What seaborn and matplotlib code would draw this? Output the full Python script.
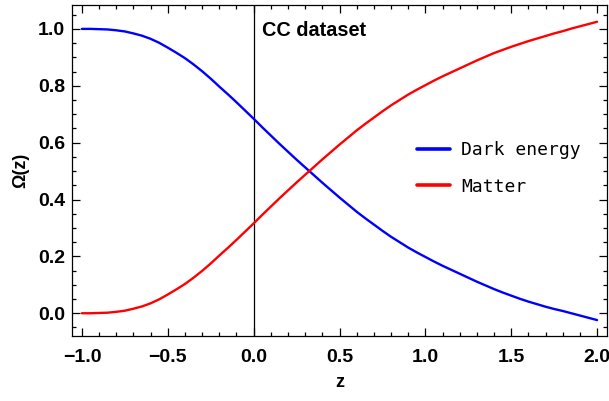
import numpy as np
import pandas as pd
import matplotlib
matplotlib.use("Agg")
import matplotlib.pyplot as plt
from matplotlib.ticker import MultipleLocator, FuncFormatter
from matplotlib.lines import Line2D
import seaborn as sns

z = [-1.00, -0.95, -0.90, -0.85, -0.80, -0.75, -0.70, -0.65, -0.60, -0.55,
     -0.50, -0.45, -0.40, -0.35, -0.30, -0.25, -0.20, -0.15, -0.10, -0.05,
     0.00, 0.05, 0.10, 0.15, 0.20, 0.25, 0.30, 0.35, 0.40, 0.45,
     0.50, 0.55, 0.60, 0.65, 0.70, 0.75, 0.80, 0.85, 0.90, 0.95,
     1.00, 1.05, 1.10, 1.15, 1.20, 1.25, 1.30, 1.35, 1.40, 1.45,
     1.50, 1.55, 1.60, 1.65, 1.70, 1.75, 1.80, 1.85, 1.90, 1.95, 2.00]

dark_energy = [1.000, 1.000, 0.999, 0.998, 0.995, 0.991, 0.984, 0.976, 0.965, 0.951,
               0.934, 0.916, 0.897, 0.875, 0.851, 0.825, 0.797, 0.770, 0.742, 0.713,
               0.684, 0.654, 0.625, 0.596, 0.568, 0.540, 0.513, 0.486, 0.459, 0.433,
               0.407, 0.382, 0.357, 0.334, 0.312, 0.290, 0.269, 0.250, 0.231, 0.214,
               0.198, 0.182, 0.167, 0.153, 0.139, 0.125, 0.111, 0.098, 0.085, 0.073,
               0.062, 0.051, 0.041, 0.032, 0.023, 0.015, 0.008, 0.000, -0.008, -0.016, -0.024]

matter = [0.000, 0.000, 0.001, 0.002, 0.005, 0.009, 0.016, 0.024, 0.035, 0.049,
          0.066, 0.084, 0.103, 0.125, 0.149, 0.175, 0.203, 0.230, 0.258, 0.287,
          0.316, 0.346, 0.375, 0.404, 0.432, 0.460, 0.487, 0.514, 0.541, 0.567,
          0.593, 0.618, 0.643, 0.666, 0.688, 0.710, 0.731, 0.750, 0.769, 0.786,
          0.802, 0.818, 0.833, 0.847, 0.861, 0.875, 0.889, 0.902, 0.915, 0.926,
          0.937, 0.947, 0.957, 0.966, 0.975, 0.984, 0.992, 1.001, 1.009, 1.017, 1.025]

series_names = ["Dark energy", "Matter"]
series_colors = ["#0000ff", "#ff0000"]
annotation = "CC dataset"

df = pd.concat([
    pd.DataFrame({"z": z, "omega": dark_energy, "series": series_names[0]}),
    pd.DataFrame({"z": z, "omega": matter, "series": series_names[1]}),
])

sns.set_theme(style="ticks")
plt.rcParams["font.family"] = ["Liberation Sans", "DejaVu Sans"]
plt.rcParams.update({
    "text.color": "black", "axes.labelcolor": "black",
    "xtick.color": "black", "ytick.color": "black",
    "axes.edgecolor": "black",
})

fig = plt.figure(figsize=(6.09, 4.01), dpi=100)
ax = fig.add_axes([72 / 609, 1 - 336 / 401, (606.5 - 72) / 609, (336 - 5) / 401])

sns.lineplot(data=df, x="z", y="omega", hue="series", palette=series_colors,
             hue_order=series_names, linewidth=1.7, ax=ax, legend=False, sort=False)

ax.axvline(0, color="black", linewidth=0.9, zorder=1)

ax.set_xlim(-1.058, 2.055)
ax.set_ylim(-0.08, 1.084)

ax.xaxis.set_major_locator(MultipleLocator(0.5))
ax.xaxis.set_minor_locator(MultipleLocator(0.1))
ax.yaxis.set_major_locator(MultipleLocator(0.2))
ax.yaxis.set_minor_locator(MultipleLocator(0.05))
fmt = FuncFormatter(lambda v, p: f"{v:.1f}".replace("-", "\u2212"))
ax.xaxis.set_major_formatter(fmt)
ax.yaxis.set_major_formatter(fmt)

ax.tick_params(which="both", direction="in", top=True, right=True,
               color="black", labelcolor="black", width=0.9, labelsize=14)
ax.tick_params(which="major", length=5.5)
ax.tick_params(which="minor", length=3.2)
ax.tick_params(axis="x", which="major", pad=9)
ax.tick_params(axis="y", which="major", pad=5)

fig.canvas.draw()
for lab in ax.get_xticklabels() + ax.get_yticklabels():
    lab.set_fontweight("bold")
    lab.set_color("black")

for sp in ax.spines.values():
    sp.set_visible(True)
    sp.set_color("black")
    sp.set_linewidth(0.9)

ax.set_xlabel("z", fontsize=13, fontweight="bold", labelpad=6, color="black")
ax.set_ylabel("Ω(z)", fontsize=13, fontweight="bold", labelpad=6, color="black")

ax.text(0.05, 0.975, annotation, fontsize=14.3, fontweight="bold",
        ha="left", va="baseline", color="black")

handles = [Line2D([], [], color=c, linewidth=2.6) for c in series_colors]
leg = ax.legend(handles, series_names, loc="center left",
                bbox_to_anchor=((417 - 72) / 534.5, (336 - 168.5) / 331),
                frameon=False, borderpad=0, borderaxespad=0,
                handlelength=1.85, handletextpad=0.6, labelspacing=1.0,
                prop={"family": "DejaVu Sans Mono", "size": 13})
for t in leg.get_texts():
    t.set_color("black")

fig.savefig("out.png", dpi=100)
